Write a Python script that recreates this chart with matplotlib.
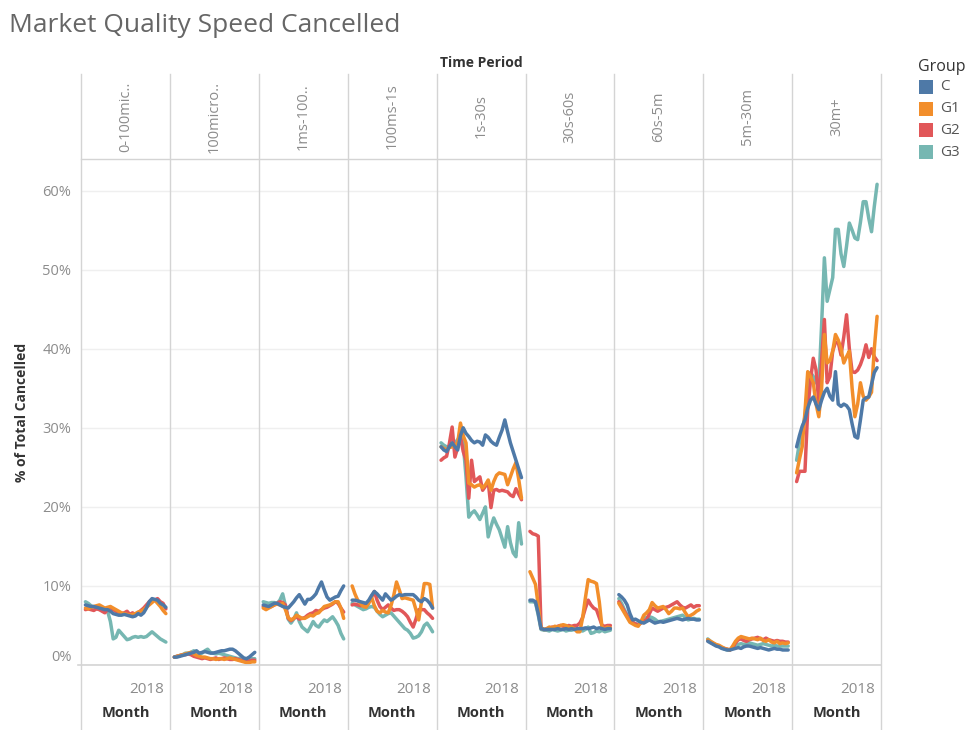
import matplotlib.pyplot as plt
from matplotlib.lines import Line2D
from matplotlib.patches import Rectangle

plt.rcParams['font.family'] = ['Open Sans', 'DejaVu Sans']

W, H = 966, 730

periods = ['0-100mic..', '100micro..', '1ms-100..', '100ms-1s', '1s-30s',
           '30s-60s', '60s-5m', '5m-30m', '30m+']
groups = ['C', 'G1', 'G2', 'G3']
colors = {'C': '#4e79a7', 'G1': '#f28e2b', 'G2': '#e15759', 'G3': '#76b7b2'}

# months Mar 2016 .. Aug 2018, index 22 = Jan 2018
n_months = 30
year_tick = 22
yticks = [0, 10, 20, 30, 40, 50, 60]

# % of total cancelled, one list per group per time period
C = [
    [7.6, 7.5, 7.4, 7.4, 7.3, 7.2, 7.1, 7.0, 7.0, 6.8, 6.5, 6.4, 6.3, 6.3, 6.4, 6.3, 6.2, 6.1, 6.2, 6.5, 6.3, 6.6, 7.2, 8.0, 8.4, 8.3, 8.2, 7.8, 7.6, 7.3],
    [1.0, 1.0, 1.1, 1.2, 1.3, 1.4, 1.5, 1.6, 1.8, 1.5, 1.6, 1.7, 1.6, 1.5, 1.5, 1.6, 1.7, 1.8, 1.8, 1.9, 2.0, 2.0, 1.8, 1.5, 1.2, 0.9, 0.8, 1.0, 1.3, 1.6],
    [7.6, 7.5, 7.4, 7.6, 7.8, 7.8, 7.6, 7.4, 7.3, 7.2, 7.6, 8.0, 8.5, 8.9, 8.3, 7.7, 8.3, 8.3, 8.6, 9.0, 9.8, 10.5, 9.5, 8.6, 8.2, 8.4, 8.6, 8.7, 9.4, 10.0],
    [8.2, 8.2, 8.1, 8.0, 7.9, 7.8, 8.2, 8.8, 9.3, 9.0, 8.6, 8.2, 9.0, 8.6, 8.2, 8.4, 8.7, 8.9, 8.8, 8.9, 8.9, 8.9, 8.9, 8.6, 8.2, 8.0, 8.4, 8.2, 7.8, 7.2],
    [27.6, 27.2, 27.0, 27.6, 28.1, 27.6, 27.2, 29.0, 30.0, 29.3, 28.9, 28.4, 28.1, 28.3, 28.2, 27.8, 29.1, 28.8, 28.3, 28.0, 27.8, 28.8, 29.7, 31.0, 29.5, 28.1, 27.0, 25.9, 24.8, 23.7],
    [8.2, 8.2, 8.0, 6.5, 4.6, 4.5, 4.5, 4.5, 4.5, 4.5, 4.6, 4.5, 4.5, 4.6, 4.5, 4.6, 4.5, 4.6, 4.6, 4.6, 4.7, 4.6, 4.7, 4.8, 4.6, 4.7, 4.6, 4.5, 4.6, 4.6],
    [8.9, 8.6, 8.2, 7.6, 6.5, 5.7, 5.8, 5.6, 5.4, 5.3, 5.5, 5.7, 5.5, 5.3, 5.4, 5.5, 5.4, 5.5, 5.6, 5.7, 5.8, 5.9, 5.8, 5.7, 5.8, 5.9, 5.8, 5.8, 5.7, 5.7],
    [3.0, 2.8, 2.6, 2.4, 2.3, 2.1, 2.0, 1.9, 1.9, 2.0, 2.1, 2.2, 2.1, 2.3, 2.4, 2.4, 2.3, 2.2, 2.1, 2.2, 2.1, 2.0, 1.9, 2.0, 2.1, 2.0, 2.0, 1.9, 1.9, 1.9],
    [27.6, 29.0, 30.2, 31.0, 32.5, 33.5, 33.9, 33.0, 32.3, 33.5, 34.5, 35.0, 34.0, 33.5, 37.1, 33.0, 32.7, 33.0, 32.8, 32.3, 30.5, 28.9, 28.7, 31.0, 33.5, 33.8, 33.9, 35.5, 37.0, 37.6],
]
G1 = [
    [7.2, 7.1, 7.3, 7.4, 7.5, 7.6, 7.4, 7.2, 7.3, 7.4, 7.2, 7.0, 6.8, 6.6, 6.5, 6.4, 6.3, 6.4, 6.5, 6.7, 6.8, 7.0, 7.3, 7.6, 7.9, 8.2, 7.8, 7.4, 6.9, 6.5],
    [1.0, 1.1, 1.2, 1.3, 1.4, 1.5, 1.6, 1.4, 1.2, 1.1, 1.0, 1.0, 0.9, 0.8, 0.8, 0.7, 0.8, 0.8, 0.7, 0.8, 0.9, 0.8, 0.7, 0.6, 0.5, 0.4, 0.3, 0.3, 0.4, 0.4],
    [7.2, 7.0, 7.2, 7.4, 7.6, 7.7, 7.6, 7.8, 7.0, 6.0, 5.7, 5.9, 6.3, 6.1, 5.9, 5.9, 6.1, 6.3, 6.2, 6.5, 6.6, 7.0, 7.4, 7.5, 7.6, 7.8, 8.0, 8.0, 7.2, 5.9],
    [10.0, 9.0, 8.2, 7.8, 7.4, 7.3, 7.8, 8.6, 7.5, 6.8, 6.6, 6.9, 6.7, 6.6, 7.5, 8.8, 10.5, 9.5, 8.4, 8.5, 8.4, 8.3, 8.2, 7.0, 5.7, 8.0, 10.3, 10.3, 10.2, 7.2],
    [27.6, 27.4, 27.2, 27.5, 27.6, 27.8, 28.1, 30.6, 29.0, 28.1, 23.0, 22.8, 22.5, 22.7, 22.8, 22.4, 22.8, 23.4, 22.1, 23.2, 24.0, 24.3, 24.2, 24.1, 22.8, 23.8, 24.8, 25.6, 23.5, 21.1],
    [11.8, 11.0, 10.2, 7.5, 4.7, 4.5, 4.6, 4.8, 4.7, 4.9, 4.8, 5.0, 5.1, 5.0, 4.8, 4.8, 4.6, 4.2, 4.2, 6.0, 8.5, 10.8, 10.6, 10.5, 10.3, 8.0, 4.7, 4.6, 4.8, 4.7],
    [7.8, 7.2, 6.6, 6.0, 5.4, 5.2, 5.0, 4.9, 5.5, 6.3, 6.6, 7.0, 7.9, 7.5, 7.2, 7.3, 7.4, 7.0, 6.5, 6.8, 7.2, 7.2, 7.1, 7.2, 6.6, 6.1, 6.3, 6.5, 6.8, 7.0],
    [3.2, 3.0, 2.8, 2.6, 2.5, 2.3, 2.1, 2.0, 1.9, 2.4, 3.0, 3.4, 3.6, 3.5, 3.4, 3.3, 3.4, 3.3, 3.2, 3.4, 3.1, 3.0, 3.2, 2.9, 2.8, 3.0, 2.7, 2.8, 2.7, 2.8],
    [24.3, 26.0, 27.6, 32.0, 37.1, 36.5, 35.7, 33.0, 31.4, 35.0, 41.8, 38.2, 38.5, 39.7, 41.8, 41.1, 40.0, 38.2, 39.0, 39.7, 35.0, 31.4, 33.0, 35.7, 34.0, 33.5, 33.9, 34.5, 40.0, 44.1],
]
G2 = [
    [7.0, 7.1, 7.0, 6.9, 7.1, 7.0, 6.8, 6.6, 7.0, 7.3, 7.0, 6.8, 6.7, 6.5, 6.6, 6.8, 6.4, 6.6, 6.3, 6.6, 6.9, 7.2, 7.6, 8.0, 8.3, 8.2, 8.4, 8.0, 7.8, 7.1],
    [1.0, 1.1, 1.2, 1.3, 1.3, 1.4, 1.3, 1.1, 1.0, 0.9, 0.8, 0.9, 0.8, 0.7, 0.8, 0.9, 0.7, 0.8, 0.9, 0.8, 0.7, 0.7, 0.8, 0.7, 0.6, 0.5, 0.4, 0.5, 0.6, 0.6],
    [7.4, 7.2, 7.3, 7.4, 7.6, 7.8, 8.0, 7.9, 7.6, 5.9, 5.6, 5.9, 6.1, 5.8, 5.9, 6.0, 6.3, 6.5, 6.6, 6.9, 6.8, 7.0, 7.2, 7.3, 7.5, 7.7, 8.0, 7.8, 7.2, 6.7],
    [7.6, 7.7, 7.6, 7.5, 7.6, 7.6, 8.0, 8.6, 9.3, 8.2, 7.4, 7.0, 7.3, 7.6, 7.2, 6.9, 7.0, 7.0, 6.8, 6.5, 6.1, 5.4, 4.8, 5.8, 7.0, 7.0, 7.0, 6.6, 6.3, 5.9],
    [25.9, 26.2, 26.4, 28.0, 30.1, 26.3, 27.5, 28.9, 27.0, 25.9, 21.1, 25.9, 23.2, 23.5, 23.8, 22.1, 22.6, 23.2, 19.9, 22.1, 22.2, 22.0, 22.1, 22.0, 21.9, 21.5, 21.3, 22.3, 21.6, 20.9],
    [16.9, 16.6, 16.5, 16.3, 4.7, 4.5, 4.5, 4.6, 4.8, 4.7, 4.9, 5.0, 4.9, 4.8, 5.0, 4.9, 5.0, 5.0, 5.3, 6.0, 7.2, 8.2, 7.6, 7.2, 7.0, 6.0, 5.0, 4.9, 5.0, 5.0],
    [8.0, 7.4, 6.8, 6.2, 5.7, 5.4, 5.2, 5.1, 5.3, 5.6, 5.7, 6.5, 7.2, 7.0, 6.8, 7.0, 7.2, 7.3, 7.4, 7.6, 7.8, 8.0, 7.6, 7.3, 7.2, 7.4, 7.6, 7.3, 7.5, 7.5],
    [3.1, 2.9, 2.7, 2.5, 2.4, 2.2, 2.1, 2.0, 1.9, 2.2, 2.8, 3.2, 3.3, 3.1, 3.0, 3.2, 3.3, 3.4, 3.5, 3.3, 3.2, 3.4, 3.2, 3.1, 3.0, 3.1, 3.0, 3.0, 2.9, 2.9],
    [23.2, 24.5, 24.5, 24.5, 32.3, 36.0, 38.8, 37.3, 33.2, 38.5, 43.7, 35.7, 36.5, 39.7, 40.8, 40.8, 39.2, 41.5, 44.3, 40.0, 37.1, 37.0, 37.3, 38.0, 39.0, 40.5, 38.9, 40.0, 39.0, 38.5],
]
G3 = [
    [8.0, 7.8, 7.5, 7.3, 7.2, 7.3, 7.2, 7.0, 6.8, 5.5, 3.3, 3.5, 4.4, 4.0, 3.6, 3.2, 3.3, 3.5, 3.6, 3.5, 3.6, 3.5, 3.6, 3.9, 4.2, 3.9, 3.6, 3.3, 3.1, 2.9],
    [1.0, 1.1, 1.2, 1.3, 1.5, 1.5, 1.6, 1.8, 1.6, 1.4, 1.5, 1.8, 2.0, 1.6, 1.5, 1.4, 1.5, 1.4, 1.3, 1.2, 1.1, 1.0, 0.9, 0.8, 0.9, 0.7, 0.8, 0.7, 0.8, 0.8],
    [8.0, 7.9, 7.8, 7.9, 7.9, 7.8, 8.2, 9.0, 7.5, 5.8, 5.3, 5.8, 6.6, 5.5, 4.8, 4.5, 4.2, 4.8, 5.5, 5.0, 4.8, 5.3, 5.7, 5.5, 5.8, 6.1, 5.6, 5.0, 4.0, 3.3],
    [7.8, 7.6, 7.4, 7.2, 7.0, 7.1, 7.3, 7.4, 7.3, 6.8, 6.4, 6.1, 6.3, 6.5, 6.6, 6.2, 5.8, 5.4, 5.0, 4.6, 4.4, 4.0, 3.4, 3.5, 3.7, 4.2, 5.0, 5.3, 4.8, 4.2],
    [28.1, 27.8, 27.6, 27.6, 27.8, 28.1, 28.5, 29.1, 28.0, 23.8, 18.7, 19.2, 19.5, 19.0, 18.4, 19.2, 20.0, 16.2, 17.5, 18.6, 17.8, 17.1, 16.0, 14.9, 17.5, 15.5, 14.2, 13.7, 18.0, 15.3],
    [8.0, 8.0, 7.9, 6.3, 4.5, 4.4, 4.4, 4.3, 4.5, 4.4, 4.3, 4.4, 4.5, 4.3, 4.4, 4.4, 4.5, 4.4, 4.4, 4.3, 4.5, 4.8, 4.0, 4.1, 4.3, 4.2, 4.4, 4.2, 4.3, 4.4],
    [8.4, 7.8, 7.0, 6.3, 5.7, 5.4, 5.2, 5.1, 5.5, 5.9, 6.0, 6.1, 6.0, 5.8, 5.5, 5.5, 5.6, 5.7, 5.8, 5.9, 6.0, 6.1, 6.2, 6.3, 6.0, 5.7, 5.8, 5.9, 5.8, 5.8],
    [3.3, 3.0, 2.7, 2.5, 2.4, 2.2, 2.0, 1.9, 1.9, 2.2, 2.5, 2.6, 2.7, 2.6, 2.7, 2.8, 2.7, 2.6, 2.5, 2.6, 2.7, 2.6, 2.5, 2.4, 2.5, 2.4, 2.4, 2.4, 2.4, 2.4],
    [25.9, 28.1, 29.7, 31.4, 35.2, 37.0, 36.5, 35.7, 35.5, 43.0, 51.5, 46.0, 47.5, 49.0, 55.1, 55.1, 52.0, 50.4, 53.0, 55.9, 55.0, 54.0, 53.8, 56.0, 58.6, 58.6, 56.5, 54.8, 58.0, 60.8],
]
series = {'C': C, 'G1': G1, 'G2': G2, 'G3': G3}
draw_order = ['G3', 'G2', 'G1', 'C']

# layout in pixels
left0, pane_w = 81, 88.9
head_top, plot_top, plot_bot = 74, 159, 665
grid_col = '#d4d4d4'
label_col = '#8c8c8c'
dark = '#333333'


def fx(x):
    return x / W


def fy(y):
    return 1 - y / H


fig = plt.figure(figsize=(W / 100, H / 100), dpi=100)

months = list(range(n_months))
for i, period in enumerate(periods):
    ax = fig.add_axes([fx(left0 + i * pane_w), fy(plot_bot),
                       fx(pane_w), (plot_bot - plot_top) / H])
    for g in draw_order:
        ax.plot(months, series[g][i], color=colors[g], lw=2.5,
                solid_joinstyle='round', solid_capstyle='round')
    ax.set_xlim(-1.6, n_months - 1 + 1.45)
    ax.set_ylim(0, 64)
    ax.set_yticks(yticks)
    ax.grid(axis='y', color='#efefef', lw=1)
    ax.set_axisbelow(True)
    for s in ax.spines.values():
        s.set_visible(False)
    ax.set_xticks([year_tick])
    ax.set_xticklabels(['2018'])
    ax.tick_params(axis='x', length=0, pad=12, labelsize=11, labelcolor=label_col)
    ax.tick_params(axis='y', length=0, pad=7, labelsize=10.5, labelcolor=label_col)
    if i == 0:
        ax.set_yticklabels([f'{t}%' for t in yticks])
        ax.get_yticklabels()[0].set_verticalalignment('bottom')
    else:
        ax.set_yticklabels([])
    cx = left0 + (i + 0.5) * pane_w
    fig.text(fx(cx), fy(116.5), period, rotation=90, ha='center', va='center',
             fontsize=10.5, color=label_col)
    fig.text(fx(cx), fy(713), 'Month', ha='center', va='center',
             fontsize=10.5, fontweight='bold', color=dark)

# panel frame lines
right = left0 + len(periods) * pane_w
for i in range(len(periods) + 1):
    x = fx(left0 + i * pane_w)
    fig.add_artist(Line2D([x, x], [fy(head_top), 0], color=grid_col, lw=1))
fig.add_artist(Line2D([fx(left0), fx(right)], [fy(plot_top), fy(plot_top)],
                      color=grid_col, lw=1))
fig.add_artist(Line2D([fx(left0 - 3), fx(right)], [fy(plot_bot), fy(plot_bot)],
                      color=grid_col, lw=1.2))

fig.text(fx(9), fy(26), 'Market Quality Speed Cancelled', ha='left', va='center',
         fontsize=19, color='#666666')
fig.text(fx((left0 + right) / 2), fy(63), 'Time Period', ha='center', va='center',
         fontsize=10, fontweight='bold', color=dark)
fig.text(fx(22), fy(412), '% of Total Cancelled', rotation=90, ha='center',
         va='center', fontsize=10, fontweight='bold', color=dark)

# legend
fig.text(fx(918), fy(67), 'Group', ha='left', va='center', fontsize=11.5, color=dark)
for k, g in enumerate(groups):
    yc = 87 + k * 21.7
    fig.add_artist(Rectangle((fx(919), fy(yc + 7)), fx(14), 14 / H,
                             color=colors[g], lw=0))
    fig.text(fx(940), fy(yc), g, ha='left', va='center', fontsize=11, color='#555555')

fig.savefig('out.png', dpi=100)
